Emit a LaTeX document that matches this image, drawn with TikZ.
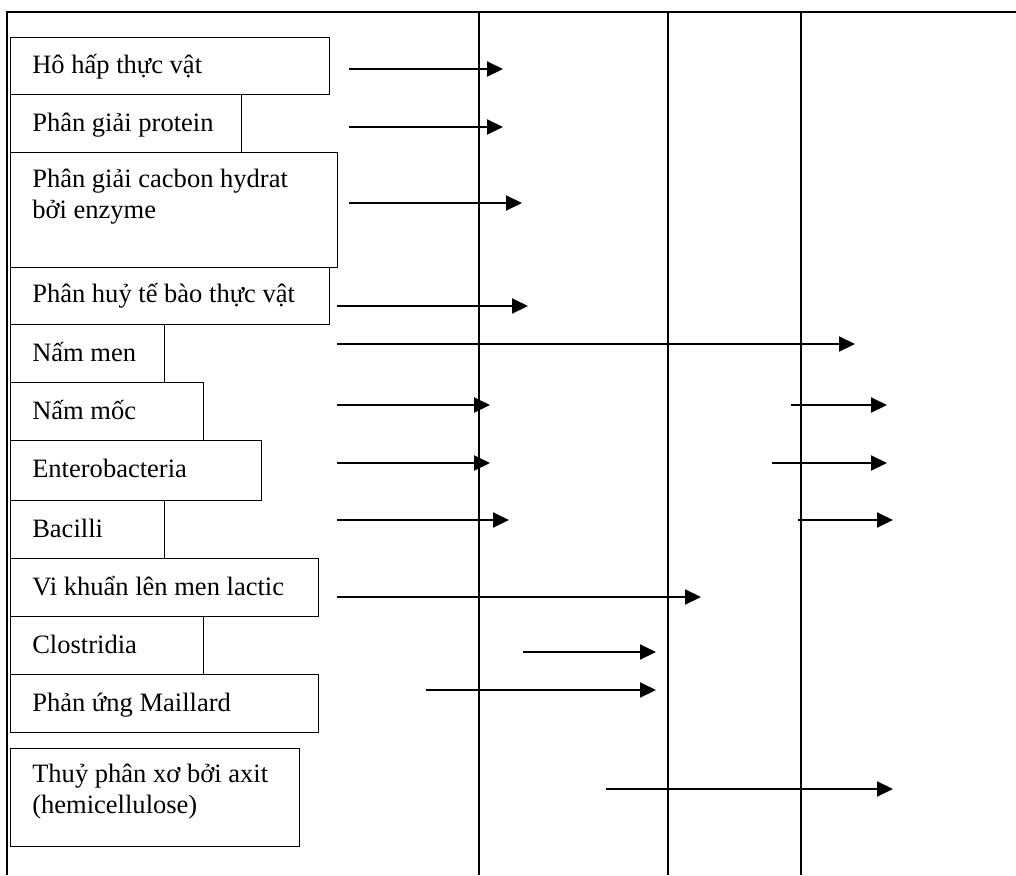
\documentclass[tikz,border=0pt]{standalone}
\usepackage{fontspec}
\setmainfont{Liberation Serif}
\usetikzlibrary{arrows.meta}
\begin{document}
\begin{tikzpicture}[x=0.75pt,y=-0.75pt,
  box/.style={draw, line width=1pt, rectangle, inner sep=0pt, anchor=north west},
  lbl/.style={anchor=base west, inner sep=0pt, font=\fontsize{19.9}{23.3}\selectfont},
  rule/.style={line width=1.5pt},
  arr/.style={line width=1.5pt, -{Triangle[length=12pt,width=11.25pt]}}]
\useasboundingbox (0,0) rectangle (1016,875);

% outer frame (top and left) and column separators
\coordinate (tl) at (7,12);
\coordinate (tr) at (1016,12);
\coordinate (bl) at (7,875);
\draw[rule] (bl) -- (tl) -- (tr);
\foreach \c/\x in {a/479, b/668, c/801} {
  \coordinate (\c top) at (\x,12);
  \coordinate (\c bot) at (\x,875);
  \draw[rule] (\c top) -- (\c bot);
}

% process boxes: number / top / bottom / right edge
\foreach \n/\t/\b/\r in {1/37/94/329, 2/94/152/241, 3/152/267/337, 4/267/324/329,
  5/324/382/164, 6/382/440/203, 7/440/500/261, 8/500/558/164,
  9/558/616/318, 10/616/674/203, 11/674/732/318, 12/748/846/299}
  \node[box, minimum width={(\r-10)*0.75pt}, minimum height={(\b-\t)*0.75pt}] (box\n) at (10,\t) {};

% labels
\node[lbl] (lbl1) at ([shift={(22,36)}]box1.north west) {Hô hấp thực vật};
\node[lbl] (lbl2) at ([shift={(22,37)}]box2.north west) {Phân giải protein};
\node[lbl] (lbl3) at ([shift={(22,35)}]box3.north west) {\begin{tabular}[t]{@{}l@{}}Phân giải cacbon hydrat\\bởi enzyme\end{tabular}};
\node[lbl] (lbl4) at ([shift={(22,35)}]box4.north west) {Phân huỷ tế bào thực vật};
\node[lbl] (lbl5) at ([shift={(22,37)}]box5.north west) {Nấm men};
\node[lbl] (lbl6) at ([shift={(22,37)}]box6.north west) {Nấm mốc};
\node[lbl] (lbl7) at ([shift={(22,37)}]box7.north west) {Enterobacteria};
\node[lbl] (lbl8) at ([shift={(22,37)}]box8.north west) {Bacilli};
\node[lbl] (lbl9) at ([shift={(22,37)}]box9.north west) {Vi khuẩn lên men lactic};
\node[lbl] (lbl10) at ([shift={(22,37)}]box10.north west) {Clostridia};
\node[lbl] (lbl11) at ([shift={(22,37)}]box11.north west) {Phản ứng Maillard};
\node[lbl] (lbl12) at ([shift={(22,34)}]box12.north west) {\begin{tabular}[t]{@{}l@{}}Thuỷ phân xơ bởi axit\\(hemicellulose)\end{tabular}};

% time-span arrows: id / y / start x / tip x
\foreach \n/\y/\s/\e in {1/69/349/503, 2/127/349/503, 3/203/349/522, 4/306/337/528,
  5/344/337/855, 6/405/337/490, 6r/405/791/887, 7/463/337/490, 7r/463/772/887,
  8/520/337/509, 8r/520/798/893, 9/597/337/701, 10/652/523/656, 11/690/426/656,
  12/789/606/893} {
  \coordinate (s\n) at (\s,\y);
  \coordinate (e\n) at (\e,\y);
  \draw[arr] (s\n) -- (e\n);
}
\end{tikzpicture}
\end{document}
